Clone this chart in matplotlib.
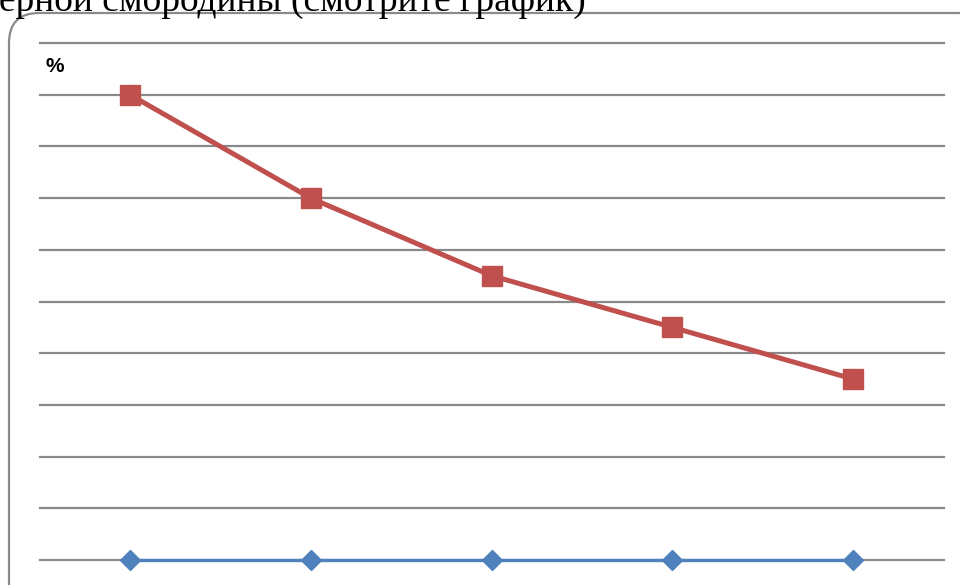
import matplotlib
matplotlib.use("Agg")
import matplotlib.pyplot as plt
from matplotlib.patches import FancyBboxPatch

categories = ["1", "2", "3", "4", "5"]
series_red = [9, 7, 5.5, 4.5, 3.5]
series_blue = [0, 0, 0, 0, 0]
y_ticks = [0, 1, 2, 3, 4, 5, 6, 7, 8, 9, 10]
unit_label = "%"
caption = "черной смородины (смотрите график)"

fig = plt.figure(figsize=(9.6, 5.85), dpi=100)
fig.patch.set_facecolor("white")

# rounded chart frame
box = FancyBboxPatch((0.09, -0.3), 9.8, 6.02,
                     boxstyle="round,pad=0,rounding_size=0.3",
                     transform=fig.dpi_scale_trans, facecolor="none",
                     edgecolor="#8a8a8a", linewidth=1.6, zorder=-1)
fig.patches.append(box)

# caption text cut at the top
fig.text(586 / 960, 1 - 11 / 585, caption, family="Liberation Serif", fontsize=27,
         color="black", ha="right", va="baseline")

ax = fig.add_axes([39.5 / 960, 25 / 585, 904 / 960, 517 / 585])
ax.set_facecolor("none")
x = list(range(len(categories)))
ax.set_xlim(-0.5, len(categories) - 0.5)
ax.set_ylim(y_ticks[0], y_ticks[-1])
for yv in y_ticks:
    ax.axhline(yv, color="#898989", linewidth=1.6, zorder=1, clip_on=False)

ax.plot(x, series_blue, color="#4F81BD", linewidth=2.4, marker="D",
        markersize=10.5, markerfacecolor="#4F81BD", markeredgecolor="#4F81BD",
        zorder=3, clip_on=False)
ax.plot(x, series_red, color="#C0504D", linewidth=3.6, marker="s",
        markersize=14, markerfacecolor="#C0504D", markeredgecolor="#C0504D",
        zorder=4, clip_on=False)

for s in ax.spines.values():
    s.set_visible(False)
ax.set_xticks([])
ax.set_yticks([])

fig.text(46 / 960, 1 - 66 / 585, unit_label, family="Liberation Sans",
         fontweight="bold", fontsize=15, color="black", ha="left", va="center")

fig.savefig("out.png", dpi=100, facecolor="white")
